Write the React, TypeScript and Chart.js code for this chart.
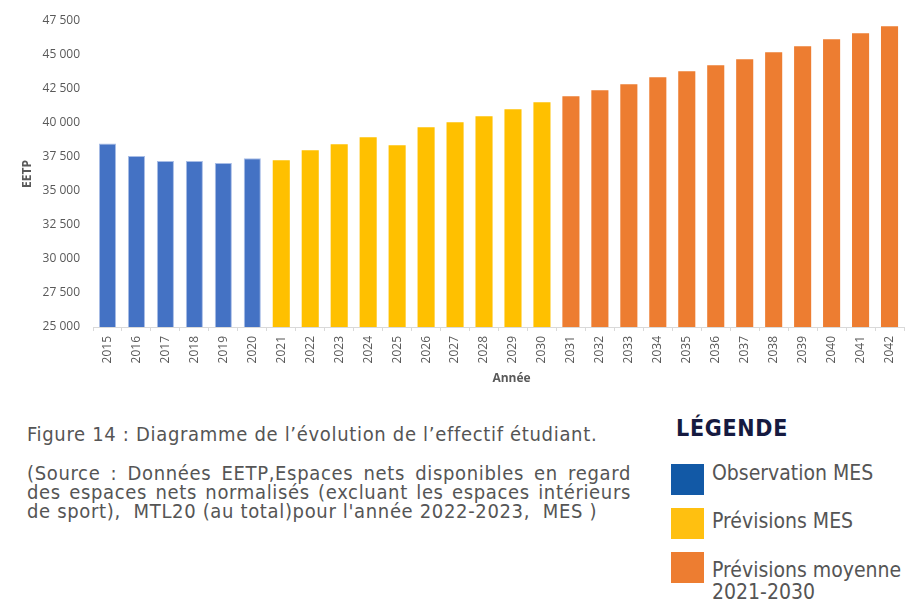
import React, { useEffect, useRef } from "react";
import { Chart, registerables } from "chart.js";

Chart.register(...registerables);

const years = [
  "2015", "2016", "2017", "2018", "2019", "2020", "2021", "2022", "2023", "2024",
  "2025", "2026", "2027", "2028", "2029", "2030", "2031", "2032", "2033", "2034",
  "2035", "2036", "2037", "2038", "2039", "2040", "2041", "2042",
];

// Observation MES (2015–2020)
const observationMES = [38500, 37580, 37200, 37200, 37060, 37400];
// Prévisions MES (2021–2030)
const previsionsMES = [37260, 38000, 38430, 38950, 38360, 39680, 40050, 40490, 41010, 41520];
// Prévisions moyenne 2021-2030 (2031–2042)
const previsionsMoyenne = [41960, 42400, 42850, 43360, 43800, 44240, 44680, 45200, 45640, 46150, 46600, 47110];

const yTicks = [25000, 27500, 30000, 32500, 35000, 37500, 40000, 42500, 45000, 47500];

const legendItems = ["Observation MES", "Prévisions MES", "Prévisions moyenne\n2021-2030"];

const BLUE = "#4472C4";
const YELLOW = "#FFC000";
const ORANGE = "#ED7D31";
const TEXT = "#595959";
const CHART_FONT = '"Open Sans", "Noto Sans", sans-serif';
const DOC_FONT = '"DejaVu Sans Condensed", "Liberation Sans Narrow", "Roboto Condensed", "Noto Sans", sans-serif';

function place(values: number[], start: number): (number | null)[] {
  return years.map((_, i) => (i >= start && i < start + values.length ? values[i - start] : null));
}

function fmt(v: number): string {
  const th = Math.floor(v / 1000);
  const rest = String(Math.round(v % 1000)).padStart(3, "0");
  return th + " " + rest;
}

const xTitlePlugin = {
  id: "xTitle",
  afterDraw(chart: any) {
    const { ctx, chartArea } = chart;
    ctx.save();
    ctx.font = `bold 12px ${CHART_FONT}`;
    ctx.fillStyle = TEXT;
    ctx.textAlign = "center";
    ctx.textBaseline = "middle";
    ctx.fillText("Année", (chartArea.left + chartArea.right) / 2 + 13, 379);
    ctx.restore();
  },
};

function BarChart() {
  const ref = useRef<HTMLCanvasElement | null>(null);
  useEffect(() => {
    if (!ref.current) return;
    const chart = new Chart(ref.current, {
      type: "bar",
      data: {
        labels: years,
        datasets: [
          {
            label: "Observation MES",
            data: place(observationMES, 0),
            backgroundColor: BLUE,
            borderColor: "#a8bde6",
            borderWidth: 1,
          },
          {
            label: "Prévisions MES",
            data: place(previsionsMES, observationMES.length),
            backgroundColor: YELLOW,
          },
          {
            label: "Prévisions moyenne 2021-2030",
            data: place(previsionsMoyenne, observationMES.length + previsionsMES.length),
            backgroundColor: ORANGE,
          },
        ],
      },
      options: {
        animation: false,
        responsive: true,
        maintainAspectRatio: false,
        layout: { padding: { left: 0, right: 4, top: 21, bottom: 0 } },
        datasets: { bar: { grouped: false, barPercentage: 0.59, categoryPercentage: 1 } },
        plugins: { legend: { display: false }, tooltip: { enabled: false } },
        scales: {
          x: {
            grid: {
              offset: true,
              drawOnChartArea: false,
              drawTicks: true,
              tickLength: 4,
              color: "#D9D9D9",
            },
            border: { display: true, color: "#D9D9D9", width: 1 },
            ticks: {
              minRotation: 90,
              maxRotation: 90,
              autoSkip: false,
              padding: 5,
              color: TEXT,
              font: { family: CHART_FONT, size: 12 },
            },
            afterFit(scale: any) {
              scale.height = 68;
            },
          },
          y: {
            min: 25000,
            max: 47500,
            afterBuildTicks(scale: any) {
              scale.ticks = yTicks.map((v) => ({ value: v }));
            },
            grid: { display: false, drawTicks: false },
            border: { display: false },
            ticks: {
              padding: 13,
              color: TEXT,
              font: { family: CHART_FONT, size: 12 },
              callback: (v: any) => fmt(Number(v)),
            },
            title: {
              display: true,
              text: "EETP",
              color: TEXT,
              font: { family: CHART_FONT, size: 12, weight: "bold" },
              padding: { top: 20, bottom: 0 },
            },
            afterFit(scale: any) {
              scale.width = 93;
            },
          },
        },
      },
      plugins: [xTitlePlugin],
    });
    return () => chart.destroy();
  }, []);
  return (
    <div style={{ position: "absolute", left: 0, top: 0, width: 909, height: 395 }}>
      <canvas ref={ref} />
    </div>
  );
}

export default function App() {
  const legendColors = ["#1259A6", "#FFC010", ORANGE];
  const legendTops = [464, 508, 552];
  const legendTextTops = [462, 510, 559];
  return (
    <div
      style={{
        position: "absolute",
        left: 0,
        top: 0,
        width: 909,
        height: 601,
        background: "#fff",
        overflow: "hidden",
        fontFamily: DOC_FONT,
      }}
    >
      <BarChart />
      <div
        style={{
          position: "absolute",
          left: 27,
          top: 424,
          fontSize: 20,
          letterSpacing: "0.68px",
          lineHeight: "20px",
          color: "#555",
          whiteSpace: "nowrap",
        }}
      >
        Figure 14 : Diagramme de l’évolution de l’effectif étudiant.
      </div>
      <div
        style={{
          position: "absolute",
          left: 27,
          top: 464,
          width: 604,
          fontSize: 20,
          letterSpacing: "0.66px",
          lineHeight: "19px",
          color: "#555",
        }}
      >
        <div style={{ textAlign: "justify", textAlignLast: "justify", whiteSpace: "nowrap" }}>
          (Source : Données EETP,Espaces nets disponibles en regard
        </div>
        <div style={{ textAlign: "justify", textAlignLast: "justify", whiteSpace: "nowrap" }}>
          des espaces nets normalisés (excluant les espaces intérieurs
        </div>
        <div style={{ whiteSpace: "pre" }}>de sport),  MTL20 (au total)pour l'année 2022-2023,  MES )</div>
      </div>
      <div
        style={{
          position: "absolute",
          left: 676,
          top: 416,
          fontSize: 23,
          letterSpacing: "0.7px",
          lineHeight: "24px",
          fontWeight: "bold",
          color: "#161A40",
        }}
      >
        LÉGENDE
      </div>
      {legendItems.map((label, i) => (
        <React.Fragment key={label}>
          <div
            style={{
              position: "absolute",
              left: 671,
              top: legendTops[i],
              width: 33,
              height: 31,
              background: legendColors[i],
            }}
          />
          <div
            style={{
              position: "absolute",
              left: 712,
              top: legendTextTops[i],
              fontSize: 21,
              lineHeight: "22px",
              color: "#555",
              whiteSpace: "pre",
            }}
          >
            {label}
          </div>
        </React.Fragment>
      ))}
    </div>
  );
}
